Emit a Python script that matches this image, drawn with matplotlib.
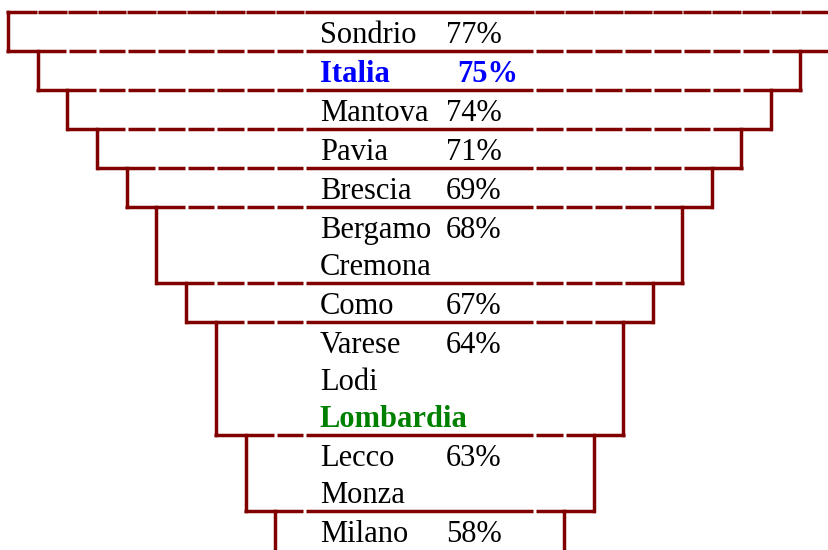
import matplotlib
matplotlib.use("Agg")
import matplotlib.pyplot as plt

# ---- data ----
row_names = [["Sondrio"], ["Italia"], ["Mantova"], ["Pavia"], ["Brescia"],
             ["Bergamo", "Cremona"], ["Como"], ["Varese", "Lodi", "Lombardia"],
             ["Lecco", "Monza"], ["Milano"]]
row_pcts = [77, 75, 74, 71, 69, 68, 67, 64, 63, 58]
highlight = {"Italia": "#0000ff", "Lombardia": "#008000"}

# ---- layout / style ----
W, H = 829, 550
LINE_COLOR = "#800000"
LW = 2.5
top0 = 12
first_line_h = 39
extra_line_h = 37
left0, left_step = 8, 29.7
right0, right_step = 830, 29.5
name_x = 320
pct_x = 446
pct_x_bold = 457
fs = 22
font = ["Liberation Serif", "DejaVu Serif"]

fig = plt.figure(figsize=(W / 100, H / 100), dpi=100)
ax = fig.add_axes([0, 0, 1, 1])
ax.set_xlim(0, W)
ax.set_ylim(H, 0)
ax.axis("off")

n = len(row_names)
tops = [top0]
for names in row_names:
    tops.append(tops[-1] + first_line_h + extra_line_h * (len(names) - 1))

L = [left0 + left_step * k for k in range(n + 1)]
R = [right0 - right_step * k for k in range(n + 1)]


def hline_gapped(y, a, b, cuts, gap):
    cuts = sorted(c for c in cuts if a + 1 < c < b - 1)
    segs = []
    start = a
    for c in cuts:
        segs.append((start, c - gap / 2))
        start = c + gap / 2
    segs.append((start, b))
    for s, e in segs:
        ax.plot([s, e], [y, y], color=LINE_COLOR, lw=LW, solid_capstyle="butt")


# top line
hline_gapped(tops[0], L[0] - 1.5, W + 5, L[1:] + R[1:], 1.0)

for i in range(n):
    y0, y1 = tops[i], tops[i + 1]
    for x in (L[i], R[i]):
        ax.plot([x, x], [y0, y1], color=LINE_COLOR, lw=LW, solid_capstyle="projecting")
    if i < n - 1:
        cuts = L[i + 2:] + R[i + 2:]
        hline_gapped(y1, L[i] - 1.5, R[i] + 1.5, cuts, 3.0)

# texts
for i, names in enumerate(row_names):
    for j, nm in enumerate(names):
        yb = tops[i] + 31 + extra_line_h * j
        col = highlight.get(nm, "black")
        bold = nm in highlight
        ax.text(name_x, yb, nm, color=col, fontsize=fs, family=font,
                fontweight="bold" if bold else "normal", va="baseline", ha="left")
        if j == 0:
            ax.text(pct_x_bold if bold else pct_x, yb, f"{row_pcts[i]}%", color=col,
                    fontsize=fs, family=font, fontweight="bold" if bold else "normal",
                    va="baseline", ha="left")

fig.savefig("out.png", dpi=100)
